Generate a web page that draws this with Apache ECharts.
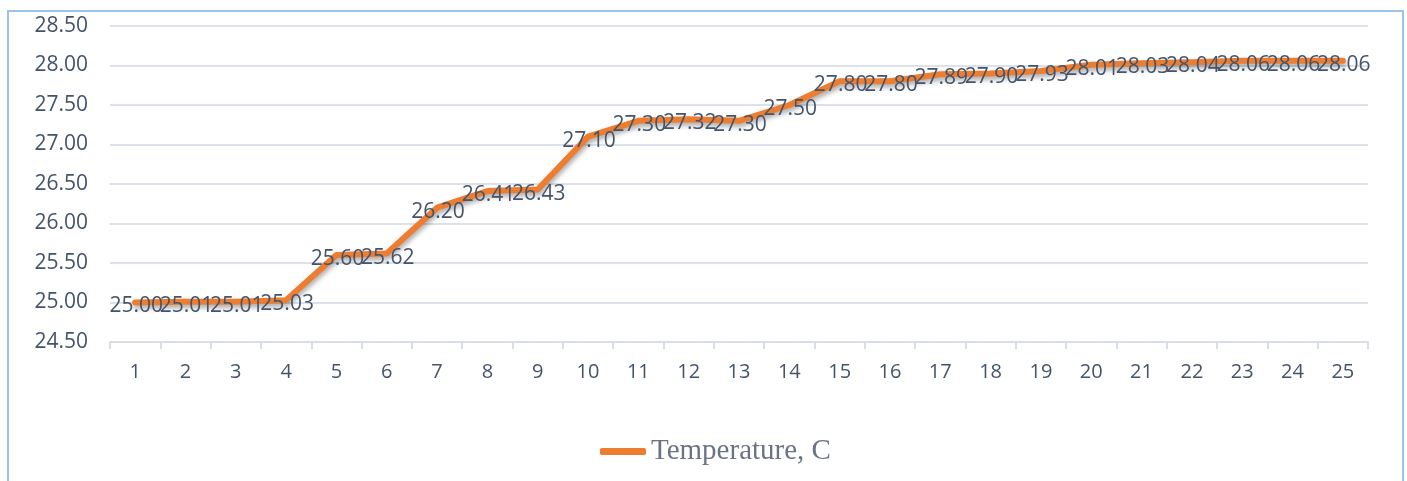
<!DOCTYPE html>
<html><head><meta charset="utf-8">
<script src="https://cdn.jsdelivr.net/npm/echarts@6/dist/echarts.min.js"></script>
<style>
html,body{margin:0;padding:0;background:#fff;}
#frame{position:absolute;left:7px;top:10px;width:1397px;height:480px;border:2px solid #9DC3E6;border-bottom:none;box-sizing:border-box;}
#c{position:absolute;left:0;top:0;width:1407px;height:481px;}
</style></head><body>
<div id="frame"></div>
<div id="c"></div>
<script>
const categories = ['1','2','3','4','5','6','7','8','9','10','11','12','13','14','15','16','17','18','19','20','21','22','23','24','25'];
const temperature = [25.00,25.01,25.01,25.03,25.60,25.62,26.20,26.41,26.43,27.10,27.30,27.32,27.30,27.50,27.80,27.80,27.89,27.90,27.93,28.01,28.03,28.04,28.06,28.06,28.06];
const seriesName = 'Temperature, C';

const chart = echarts.init(document.getElementById('c'));
chart.setOption({
  animation:false,
  grid:{left:110,right:39,top:26,bottom:139,containLabel:false},
  legend:{
    top:432,left:595,
    itemWidth:46,itemHeight:7,itemGap:8,
    icon:'roundRect',
    itemStyle:{color:'#ED7D31',opacity:1},
    textStyle:{fontFamily:'Liberation Serif',fontSize:29,color:'#6b7486'},
    data:[seriesName]
  },
  xAxis:{
    type:'category',data:categories,boundaryGap:true,
    axisLine:{lineStyle:{color:'#d9dee6',width:2}},
    axisTick:{show:true,length:7,lineStyle:{color:'#d9dee6',width:2}},
    axisLabel:{fontFamily:'Open Sans',fontSize:20,color:'#44546A',margin:20}
  },
  yAxis:{
    type:'value',min:24.5,max:28.5,interval:0.5,
    axisLine:{show:false},axisTick:{show:false},
    splitLine:{lineStyle:{color:'#dde2ea',width:2}},
    axisLabel:{fontFamily:'Open Sans',fontSize:21,color:'#44546A',margin:22,
      formatter:v=>v.toFixed(2)}
  },
  series:[{
    name:seriesName,type:'line',data:temperature,z:2,
    symbol:'none',
    lineStyle:{color:'#ED7D31',width:6,shadowColor:'rgba(0,0,0,0.35)',shadowBlur:5,shadowOffsetX:1,shadowOffsetY:3,cap:'round',join:'round'},
    itemStyle:{color:'#ED7D31'}
  },{
    name:'labels',type:'line',data:temperature,z:5,
    symbol:'circle',symbolSize:2,showSymbol:true,
    lineStyle:{width:0,color:'transparent'},
    itemStyle:{color:'transparent'},
    emphasis:{disabled:true},
    tooltip:{show:false},
    labelLayout:{hideOverlap:false},
    label:{show:true,position:[2,5],align:'center',verticalAlign:'middle',fontFamily:'Open Sans',fontSize:21,color:'#44546A',
      formatter:p=>p.value.toFixed(2)}
  }]
});
</script>
</body></html>
